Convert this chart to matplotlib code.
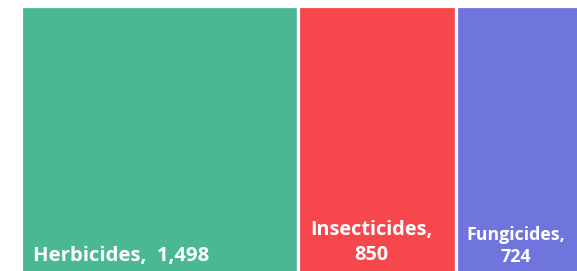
import matplotlib
matplotlib.use("Agg")
import matplotlib.pyplot as plt

categories = ["Herbicides", "Insecticides", "Fungicides"]
values = [1498, 850, 724]
colors = ["#4AB894", "#F5474C", "#7074DD"]

W, H = 577, 271
fig = plt.figure(figsize=(W / 100, H / 100), dpi=100)
ax = fig.add_axes([0, 0, 1, 1])
scale = 0.1855  # px per unit
x0 = -20.5 / scale
ax.set_xlim(x0, x0 + W / scale)
ax.set_ylim(H, 0)
ax.axis("off")

lefts = []
acc = 0
for v in values:
    lefts.append(acc)
    acc += v

ax.bar(lefts, [400] * len(values), width=values, bottom=5.5, align="edge",
       color=colors, edgecolor="white", linewidth=2.3)

font = "Open Sans"
fmt = lambda v: f"{v:,}"
# Herbicides: single line, left aligned
ax.text(lefts[0] + 12.5 / scale, 261.5, f"{categories[0]},  {fmt(values[0])}",
        ha="left", va="baseline", color="white", fontsize=14.6, fontweight="bold", family=font)
# Insecticides: two lines
cx = lefts[1] + values[1] / 2 - 6 / scale
ax.text(cx, 235, f"{categories[1]},", ha="center", va="baseline", color="white",
        fontsize=14.3, fontweight="bold", family=font)
ax.text(cx, 260.5, fmt(values[1]), ha="center", va="baseline", color="white",
        fontsize=14.3, fontweight="bold", family=font)
cx = lefts[2] + values[2] / 2 - 7 / scale
ax.text(cx, 240.5, f"{categories[2]},", ha="center", va="baseline", color="white",
        fontsize=12.8, fontweight="bold", family=font)
ax.text(cx, 261.5, fmt(values[2]), ha="center", va="baseline", color="white",
        fontsize=12.8, fontweight="bold", family=font)

fig.savefig("out.png", dpi=100)
